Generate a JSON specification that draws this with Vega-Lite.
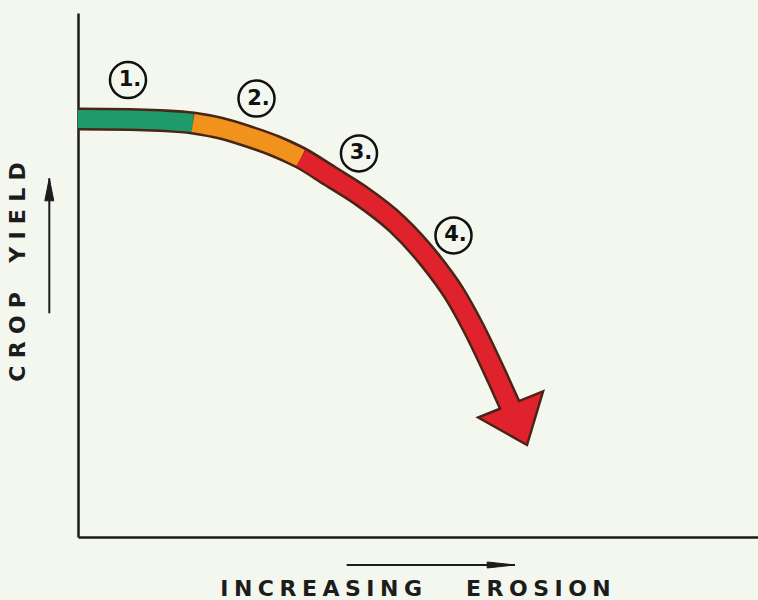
{
  "$schema": "https://vega.github.io/schema/vega-lite/v6.json",
  "width": 680,
  "height": 524,
  "autosize": {"type": "none"},
  "padding": {"left": 78, "top": 13, "right": 0, "bottom": 63},
  "background": "#f4f7ee",
  "config": {"view": {"stroke": null}},
  "datasets": {
    "curve": [
      {"stage": "1", "erosion": 0, "yield": 79.77},
      {"stage": "1", "erosion": 7.65, "yield": 79.68},
      {"stage": "1", "erosion": 12.06, "yield": 79.48},
      {"stage": "1", "erosion": 16.91, "yield": 79.01},
      {"stage": "2", "erosion": 16.91, "yield": 79.01},
      {"stage": "2", "erosion": 20.88, "yield": 78.05},
      {"stage": "2", "erosion": 24.85, "yield": 76.53},
      {"stage": "2", "erosion": 28.97, "yield": 74.62},
      {"stage": "2", "erosion": 32.79, "yield": 72.33},
      {"stage": "3", "erosion": 32.79, "yield": 72.33},
      {"stage": "3", "erosion": 37.06, "yield": 68.89},
      {"stage": "3", "erosion": 41.47, "yield": 65.27},
      {"stage": "3", "erosion": 46.91, "yield": 59.73},
      {"stage": "3", "erosion": 51.76, "yield": 52.86},
      {"stage": "3", "erosion": 55.29, "yield": 46.56},
      {"stage": "3", "erosion": 58.09, "yield": 40.08},
      {"stage": "3", "erosion": 61.62, "yield": 30.53},
      {"stage": "3", "erosion": 63.68, "yield": 24.62}
    ],
    "tip": [
      {"erosion": 66.03, "yield": 17.56}
    ],
    "labels": [
      {"label": "1.", "erosion": 7.35, "yield": 87.21},
      {"label": "2.", "erosion": 26.25, "yield": 83.68},
      {"label": "3.", "erosion": 41.32, "yield": 73.19},
      {"label": "4.", "erosion": 55.22, "yield": 57.54}
    ],
    "arrows": [
      {"axis": "yield", "erosion": -4.22, "yield": 42.69, "erosion2": -4.22, "yield2": 68.45},
      {"axis": "erosion", "erosion": 39.51, "yield": -5.34, "erosion2": 64.26, "yield2": -5.34}
    ]
  },
  "encoding": {
    "x": {
      "field": "erosion",
      "type": "quantitative",
      "scale": {"domain": [0, 100], "nice": false, "zero": false},
      "title": "I\u2005N\u2005C\u2005R\u2005E\u2005A\u2005S\u2005I\u2005N\u2005G\u2002\u2002\u2002\u2002E\u2005R\u2005O\u2005S\u2005I\u2005O\u2005N",
      "axis": {
        "grid": false, "ticks": false, "labels": false,
        "domainColor": "#1c1c1c", "domainWidth": 2.5,
        "titleFont": "DejaVu Sans", "titleFontSize": 22, "titleFontWeight": "bold", "titleColor": "#1c1c1c",
        "titleLimit": 2000, "titleX": 337, "titleY": 58, "titleAlign": "center", "titleBaseline": "alphabetic", "titleAngle": 0
      }
    },
    "y": {
      "field": "yield",
      "type": "quantitative",
      "scale": {"domain": [0, 100], "nice": false, "zero": false},
      "title": "C\u2004R\u2004O\u2004P\u2002\u2002\u2004Y\u2004I\u2004E\u2004L\u2004D",
      "axis": {
        "grid": false, "ticks": false, "labels": false,
        "domainColor": "#1c1c1c", "domainWidth": 2.5,
        "titleFont": "DejaVu Sans", "titleFontSize": 22, "titleFontWeight": "bold", "titleColor": "#1c1c1c",
        "titleLimit": 2000, "titleX": -54, "titleY": 258.5, "titleAlign": "center", "titleBaseline": "alphabetic", "titleAngle": 270
      }
    }
  },
  "layer": [
    {
      "data": {"name": "curve"},
      "transform": [{"aggregate": [{"op": "count", "as": "n"}], "groupby": ["erosion", "yield"]}],
      "mark": {"type": "line", "color": "#4a2516", "strokeWidth": 23, "strokeCap": "butt", "strokeJoin": "round", "interpolate": "monotone", "clip": false}
    },
    {
      "data": {"name": "tip"},
      "mark": {"type": "point", "shape": "M0,0L1,1.25L-1,1.25Z", "size": 4900, "angle": 158, "filled": true, "fill": "#e0222c", "stroke": "#4a2516", "strokeWidth": 2.5, "opacity": 1, "clip": false}
    },
    {
      "data": {"name": "curve"},
      "mark": {"type": "line", "strokeWidth": 18, "strokeCap": "butt", "strokeJoin": "round", "interpolate": "monotone", "clip": false},
      "encoding": {
        "color": {"field": "stage", "type": "nominal", "scale": {"domain": ["1", "2", "3"], "range": ["#1f9a6b", "#f0921c", "#e0222c"]}, "legend": null}
      }
    },
    {
      "data": {"name": "labels"},
      "mark": {"type": "point", "shape": "circle", "size": 1300, "filled": false, "stroke": "#111111", "strokeWidth": 2.5, "opacity": 1, "clip": false}
    },
    {
      "data": {"name": "labels"},
      "mark": {"type": "text", "font": "DejaVu Sans", "fontSize": 21, "fontWeight": "bold", "align": "center", "baseline": "middle", "dx": 2, "color": "#111111", "clip": false},
      "encoding": {"text": {"field": "label"}}
    },
    {
      "data": {"name": "arrows"},
      "mark": {"type": "rule", "color": "#1c1c1c", "strokeWidth": 2, "clip": false},
      "encoding": {
        "x2": {"field": "erosion2"},
        "y2": {"field": "yield2"}
      }
    },
    {
      "data": {"name": "arrows"},
      "transform": [{"filter": "datum.axis === 'yield'"}],
      "mark": {"type": "point", "shape": "M0,0L0.3,1.5L-0.3,1.5Z", "size": 900, "angle": 0, "filled": true, "fill": "#1c1c1c", "stroke": "#1c1c1c", "strokeWidth": 1, "opacity": 1, "clip": false},
      "encoding": {
        "x": {"field": "erosion2", "type": "quantitative"},
        "y": {"field": "yield2", "type": "quantitative"}
      }
    },
    {
      "data": {"name": "arrows"},
      "transform": [{"filter": "datum.axis === 'erosion'"}],
      "mark": {"type": "point", "shape": "M0,0L0.2,1.85L-0.2,1.85Z", "size": 900, "angle": 90, "filled": true, "fill": "#1c1c1c", "stroke": "#1c1c1c", "strokeWidth": 1, "opacity": 1, "clip": false},
      "encoding": {
        "x": {"field": "erosion2", "type": "quantitative"},
        "y": {"field": "yield2", "type": "quantitative"}
      }
    }
  ]
}
